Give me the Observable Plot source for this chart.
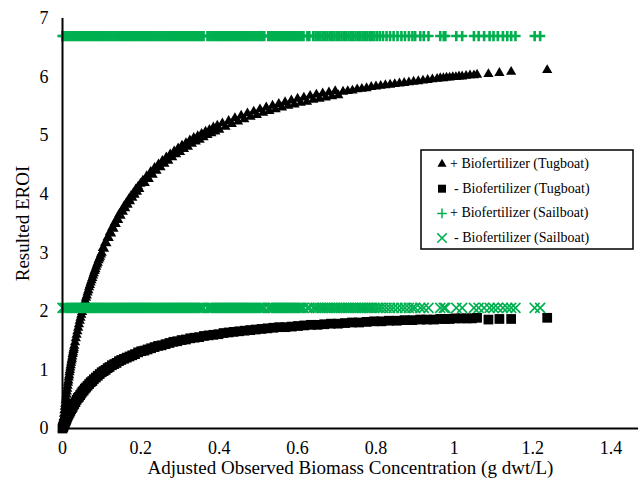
<!DOCTYPE html>
<html>
<head>
<meta charset="utf-8">
<script src="https://cdn.jsdelivr.net/npm/d3@7"></script>
<script src="https://cdn.jsdelivr.net/npm/@observablehq/plot@0.6"></script>
<style>
  html, body { margin: 0; padding: 0; background: #fff; }
  #chart svg { display: block; }
</style>
</head>
<body>
<div id="chart"></div>
<script>
// ---- data ----
const xTicks = [0, 0.2, 0.4, 0.6, 0.8, 1, 1.2, 1.4];
const yTicks = [0, 1, 2, 3, 4, 5, 6, 7];
const xLabel = "Adjusted Observed Biomass Concentration (g dwt/L)";
const yLabel = "Resulted EROI";
const seriesNames = ["+ Biofertilizer (Tugboat)", "- Biofertilizer (Tugboat)", "+ Biofertilizer (Sailboat)", "- Biofertilizer (Sailboat)"];

// + Biofertilizer (Tugboat): biomass concentration (g dwt/L) and EROI
const tugPlusBiomass = [
  0, 0.001, 0.002, 0.003, 0.004, 0.005, 0.006, 0.007, 0.008, 0.009,
  0.010, 0.011, 0.012, 0.013, 0.014, 0.015, 0.016, 0.017, 0.018, 0.019,
  0.020, 0.021, 0.022, 0.023, 0.024, 0.025, 0.026, 0.027, 0.028, 0.029, 0.030,
  0.032, 0.034, 0.036, 0.038, 0.040, 0.042, 0.044, 0.046, 0.048, 0.050,
  0.052, 0.054, 0.056, 0.058, 0.060, 0.062, 0.064, 0.066, 0.068, 0.070,
  0.072, 0.074, 0.076, 0.078, 0.080, 0.082, 0.084, 0.086, 0.088, 0.090,
  0.092, 0.094, 0.096, 0.098, 0.100,
  0.103, 0.106, 0.109, 0.112, 0.115, 0.118, 0.121, 0.124, 0.127, 0.130,
  0.133, 0.136, 0.139, 0.142, 0.145, 0.148, 0.151, 0.154, 0.157, 0.160,
  0.163, 0.166, 0.169, 0.172, 0.175, 0.178, 0.181, 0.184, 0.187, 0.190,
  0.193, 0.196, 0.199,
  0.205, 0.210, 0.215, 0.220, 0.225, 0.230, 0.235, 0.240, 0.245, 0.250,
  0.255, 0.260, 0.265, 0.270, 0.275, 0.280, 0.285, 0.290, 0.295, 0.300,
  0.305, 0.310, 0.315, 0.320, 0.325, 0.330, 0.335, 0.340, 0.345, 0.350,
  0.355, 0.360, 0.365, 0.370, 0.375, 0.380, 0.385, 0.390, 0.395, 0.400,
  0.408, 0.416, 0.424, 0.432, 0.440, 0.448, 0.456, 0.464, 0.472, 0.480,
  0.488, 0.496, 0.504, 0.512, 0.520, 0.528, 0.536, 0.544, 0.552, 0.560,
  0.568, 0.576, 0.584, 0.592, 0.600, 0.608, 0.616, 0.624, 0.632, 0.640,
  0.648, 0.656, 0.664, 0.672, 0.680, 0.688, 0.696, 0.704,
  0.716, 0.728, 0.740, 0.752, 0.764, 0.776, 0.788, 0.800, 0.812, 0.824,
  0.836, 0.848, 0.860, 0.872, 0.884, 0.896, 0.908, 0.920, 0.932, 0.944,
  0.956, 0.964, 0.972, 0.980, 0.988, 0.996, 1.004, 1.012, 1.020, 1.030,
  1.040, 1.050, 1.058, 1.087, 1.115, 1.145, 1.237
];
const tugPlusEROI = [
  0, 0.07, 0.13, 0.19, 0.25, 0.31, 0.37, 0.42, 0.48, 0.53,
  0.58, 0.63, 0.68, 0.73, 0.78, 0.82, 0.87, 0.91, 0.96, 1.00,
  1.04, 1.08, 1.12, 1.16, 1.19, 1.23, 1.27, 1.30, 1.34, 1.37, 1.41,
  1.47, 1.54, 1.60, 1.66, 1.72, 1.78, 1.84, 1.89, 1.94, 1.99,
  2.04, 2.09, 2.14, 2.18, 2.23, 2.27, 2.32, 2.36, 2.41, 2.45,
  2.49, 2.53, 2.57, 2.61, 2.65, 2.69, 2.72, 2.76, 2.80, 2.83,
  2.87, 2.90, 2.93, 2.97, 3.00,
  3.08, 3.07, 3.17, 3.16, 3.26, 3.25, 3.35, 3.33, 3.43, 3.41,
  3.51, 3.49, 3.58, 3.56, 3.66, 3.63, 3.72, 3.70, 3.79, 3.76,
  3.85, 3.82, 3.91, 3.88, 3.97, 3.94, 4.02, 3.99, 4.08, 4.04,
  4.13, 4.09, 4.18,
  4.23, 4.19, 4.31, 4.26, 4.38, 4.33, 4.45, 4.40, 4.51, 4.46,
  4.57, 4.52, 4.63, 4.57, 4.68, 4.63, 4.73, 4.68, 4.78, 4.72,
  4.83, 4.77, 4.87, 4.81, 4.92, 4.86, 4.96, 4.90, 4.99, 4.93,
  5.03, 4.97, 5.07, 5.01, 5.10, 5.04, 5.14, 5.07, 5.17, 5.10,
  5.21, 5.15, 5.25, 5.20, 5.30, 5.24, 5.34, 5.28, 5.38, 5.32,
  5.41, 5.35, 5.45, 5.39, 5.48, 5.42, 5.51, 5.45, 5.54, 5.48,
  5.57, 5.51, 5.60, 5.53, 5.63, 5.56, 5.65, 5.58, 5.68, 5.61,
  5.70, 5.63, 5.72, 5.65, 5.74, 5.67, 5.76, 5.69,
  5.75, 5.76, 5.77, 5.79, 5.80, 5.81, 5.83, 5.84, 5.85, 5.86,
  5.87, 5.88, 5.89, 5.90, 5.91, 5.92, 5.93, 5.94, 5.95, 5.96,
  5.97, 5.98, 5.98, 5.99, 5.99, 6.00, 6.00, 6.01, 6.01, 6.02,
  6.03, 6.03, 6.04, 6.05, 6.07, 6.09, 6.12
];

// - Biofertilizer (Tugboat): biomass concentration (g dwt/L) and EROI
const tugMinusBiomass = [
  0, 0.001, 0.002, 0.003, 0.004, 0.005, 0.006, 0.007, 0.008, 0.009,
  0.010, 0.012, 0.014, 0.016, 0.018, 0.020, 0.022, 0.024, 0.026, 0.028,
  0.030, 0.033, 0.036, 0.039, 0.042, 0.045, 0.048, 0.051, 0.054, 0.057,
  0.060, 0.064, 0.068, 0.072, 0.076, 0.080, 0.085, 0.090, 0.095, 0.100,
  0.105, 0.110, 0.115, 0.120, 0.126, 0.132, 0.138, 0.144, 0.150, 0.157,
  0.164, 0.171, 0.178, 0.185, 0.193, 0.201, 0.209, 0.217, 0.226, 0.235,
  0.244, 0.253, 0.263, 0.273, 0.283, 0.293, 0.304, 0.315, 0.326, 0.337,
  0.349, 0.361, 0.373, 0.385, 0.398, 0.411, 0.424, 0.437, 0.451, 0.465,
  0.479, 0.493, 0.508, 0.523, 0.538, 0.553, 0.569, 0.585, 0.601, 0.617,
  0.634, 0.651, 0.668, 0.685, 0.703, 0.721, 0.739, 0.757, 0.776, 0.795,
  0.814, 0.833, 0.853, 0.873, 0.893, 0.913, 0.930, 0.948, 0.964, 0.976,
  0.988, 1.002, 1.018, 1.031, 1.045, 1.058, 1.087, 1.115, 1.145, 1.237
];
const tugMinusEROI = [
  0, 0.02, 0.03, 0.05, 0.07, 0.08, 0.10, 0.12, 0.13, 0.15,
  0.16, 0.19, 0.22, 0.25, 0.27, 0.30, 0.33, 0.35, 0.37, 0.40,
  0.42, 0.45, 0.49, 0.52, 0.54, 0.57, 0.60, 0.63, 0.65, 0.68,
  0.70, 0.73, 0.76, 0.79, 0.81, 0.84, 0.87, 0.90, 0.93, 0.96,
  0.98, 1.00, 1.03, 1.05, 1.08, 1.10, 1.12, 1.15, 1.17, 1.19,
  1.21, 1.23, 1.25, 1.27, 1.30, 1.32, 1.33, 1.35, 1.37, 1.39,
  1.41, 1.42, 1.44, 1.46, 1.48, 1.49, 1.51, 1.52, 1.54, 1.55,
  1.56, 1.58, 1.59, 1.60, 1.61, 1.63, 1.64, 1.65, 1.66, 1.67,
  1.68, 1.69, 1.70, 1.71, 1.72, 1.73, 1.73, 1.74, 1.75, 1.76,
  1.77, 1.77, 1.78, 1.79, 1.79, 1.80, 1.81, 1.81, 1.82, 1.83,
  1.83, 1.84, 1.84, 1.85, 1.85, 1.86, 1.86, 1.86, 1.87, 1.87,
  1.87, 1.88, 1.88, 1.88, 1.88, 1.89, 1.86, 1.87, 1.87, 1.89
];

// Sailboat: biomass concentrations (g dwt/L), shared by both sailboat series
const sailBiomass = [
  0, 0.005, 0.010, 0.015, 0.020, 0.025, 0.030, 0.035, 0.040, 0.045,
  0.050, 0.055, 0.060, 0.065, 0.070, 0.075, 0.080, 0.085, 0.090, 0.095,
  0.100, 0.105, 0.110, 0.115, 0.120, 0.125, 0.130, 0.135, 0.140, 0.145,
  0.150, 0.155, 0.160, 0.165, 0.170, 0.175, 0.180, 0.185, 0.190, 0.195,
  0.200, 0.205, 0.210, 0.215, 0.220, 0.225, 0.230, 0.235, 0.240, 0.245,
  0.250, 0.255, 0.260, 0.265, 0.270, 0.275, 0.280, 0.285, 0.290, 0.295,
  0.300, 0.305, 0.310, 0.315, 0.320, 0.325, 0.330, 0.335, 0.340, 0.345,
  0.350, 0.355, 0.360,
  0.370, 0.375, 0.380, 0.385, 0.390, 0.395, 0.400, 0.405, 0.410, 0.415,
  0.420, 0.425, 0.430, 0.435, 0.440, 0.445, 0.450, 0.455, 0.460, 0.465,
  0.470, 0.475, 0.480, 0.485, 0.490, 0.495, 0.500, 0.505, 0.510, 0.515,
  0.525, 0.530, 0.535, 0.540, 0.545, 0.550, 0.555, 0.560, 0.565, 0.570,
  0.575, 0.580, 0.585, 0.590, 0.595, 0.600, 0.605, 0.610, 0.615,
  0.625, 0.630,
  0.640, 0.646, 0.652, 0.658, 0.664, 0.670, 0.676, 0.682, 0.688, 0.694,
  0.700, 0.706, 0.712, 0.718, 0.724, 0.730, 0.736, 0.742, 0.748, 0.754,
  0.760, 0.766, 0.772, 0.778, 0.784, 0.790, 0.796,
  0.803, 0.810, 0.818, 0.827, 0.836, 0.845, 0.855, 0.865, 0.874, 0.884,
  0.893,
  0.900, 0.913, 0.922, 0.934, 0.964, 0.973, 0.977, 1.005, 1.020, 1.050,
  1.062, 1.076, 1.090, 1.100, 1.111, 1.124, 1.135, 1.145, 1.156, 1.205,
  1.219
];
// Sailboat EROI is flat across all concentrations
const sailPlusEROI = 6.7;   // + Biofertilizer (Sailboat)
const sailMinusEROI = 2.06; // - Biofertilizer (Sailboat)

// ---- tables ----
const tugPlus = tugPlusBiomass.map((x, i) => ({x, y: tugPlusEROI[i]}));
const tugMinus = tugMinusBiomass.map((x, i) => ({x, y: tugMinusEROI[i]}));
const sailPlus = sailBiomass.map(x => ({x, y: sailPlusEROI}));
const sailMinus = sailBiomass.map(x => ({x, y: sailMinusEROI}));

const green = "#00b050";
const font = "'Liberation Serif', 'Times New Roman', serif";

const chart = Plot.plot({
  width: 638,
  height: 485,
  marginLeft: 62,
  marginRight: 0,
  marginTop: 18,
  marginBottom: 57,
  style: {fontFamily: font, fontSize: "18px", background: "#fff", color: "#000"},
  x: {domain: [0, 1.47]},
  y: {domain: [0, 7]},
  marks: [
    Plot.axisX({ticks: xTicks, tickSize: 0, tickPadding: 13, tickFormat: d => String(d), label: null, fontSize: 18}),
    Plot.axisY({ticks: yTicks, tickSize: 0, tickPadding: 14, tickFormat: d => String(d), label: null, fontSize: 18}),
    Plot.dot(tugPlus, {x: "x", y: "y", symbol: "triangle", r: 3.8, fill: "#000", stroke: "none"}),
    Plot.dot(tugMinus, {x: "x", y: "y", symbol: "square", r: 5.5, fill: "#000", stroke: "none"}),
    Plot.dot(sailPlus, {x: "x", y: "y", symbol: "plus", r: 3.4, stroke: green, fill: "none", strokeWidth: 2.6}),
    Plot.dot(sailMinus, {x: "x", y: "y", symbol: "times", r: 4.6, stroke: green, fill: "none", strokeWidth: 1.6}),
    Plot.ruleX([0], {stroke: "#000", strokeWidth: 2}),
    Plot.ruleY([0], {stroke: "#000", strokeWidth: 2}),
    Plot.text([yLabel], {frameAnchor: "left", rotate: -90, dx: -40, textAnchor: "middle", lineAnchor: "middle", fontSize: 19, fill: "#000"}),
    Plot.text([xLabel], {frameAnchor: "bottom", dy: 39, textAnchor: "middle", lineAnchor: "middle", fontSize: 19, fill: "#000"})
  ]
});

document.getElementById("chart").appendChild(chart);

// ---- legend inside the plot area ----
const svg = d3.select(chart);
const lg = svg.append("g").attr("transform", "translate(421,150)");
lg.append("rect").attr("width", 212).attr("height", 99)
  .attr("fill", "#fff").attr("stroke", "#000").attr("stroke-width", 1.5);
const legendSymbols = [
  {type: d3.symbolTriangle, size: 36, fill: "#000", stroke: "none"},
  {type: d3.symbolSquare, size: 64, fill: "#000", stroke: "none"},
  {type: d3.symbolPlus, size: 32, fill: "none", stroke: green},
  {type: d3.symbolTimes, size: 60, fill: "none", stroke: green}
];
seriesNames.forEach((name, i) => {
  const row = lg.append("g").attr("transform", `translate(0,${13 + i * 24.7})`);
  const s = legendSymbols[i];
  row.append("path").attr("transform", "translate(21,1)")
    .attr("d", d3.symbol(s.type, s.size)())
    .attr("fill", s.fill).attr("stroke", s.stroke).attr("stroke-width", 1.5);
  row.append("text").attr("x", i % 2 === 0 ? 29 : 33).attr("dy", "0.35em")
    .attr("text-anchor", "start")
    .style("font-family", font).attr("font-size", 14).attr("fill", "#000")
    .text(name);
});
</script>
</body>
</html>
